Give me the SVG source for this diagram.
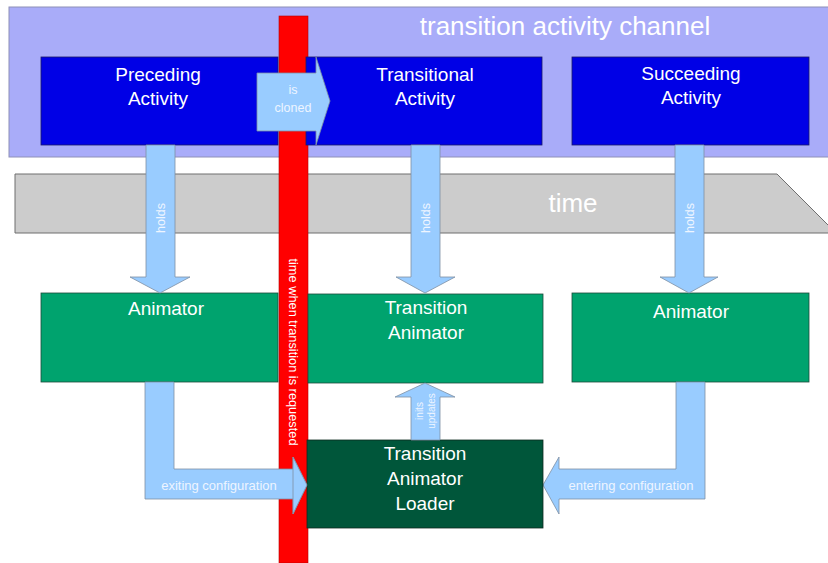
<svg xmlns="http://www.w3.org/2000/svg" width="828" height="563" viewBox="0 0 828 563">
<style>
text{font-family:"Liberation Sans",Arial,sans-serif;fill:#ffffff}
.box{font-size:19px;text-anchor:middle}
.lbl{font-size:13px;text-anchor:middle;fill:#eef5ff}
.sm{font-size:12.5px;text-anchor:middle;fill:#eef5ff}
.arr{fill:#99ccff;stroke:#7d8fa3;stroke-width:0.8}
.blue{fill:#0000e6;stroke:#1a1a66;stroke-width:0.8}
.green{fill:#00a36e;stroke:#1d4a3a;stroke-width:0.8}
</style>
<rect width="828" height="563" fill="#ffffff"/>
<g id="channel">
<rect x="9" y="7" width="820" height="150" fill="#a9acf9" stroke="#8e90b8" stroke-width="1"/>
<text x="565" y="35" style="font-size:26px;text-anchor:middle">transition activity channel</text>
</g>
<g id="time">
<polygon points="15,174 777,174 836,233 15,233" fill="#cccccc" stroke="#6e6e6e" stroke-width="1"/>
<text x="573" y="212" style="font-size:26px;text-anchor:middle">time</text>
</g>
<g id="red-bar">
<rect x="279" y="16" width="29" height="547" fill="#ff0000" stroke="#b30000" stroke-width="0.6"/>
</g>
<g id="preceding">
<rect class="blue" x="41" y="57" width="237" height="88"/>
<text class="box" x="158" y="81">Preceding</text>
<text class="box" x="158" y="105">Activity</text>
</g>
<g id="transitional">
<rect class="blue" x="306" y="57" width="236" height="88"/>
<text class="box" x="425" y="81">Transitional</text>
<text class="box" x="425" y="105">Activity</text>
</g>
<g id="succeeding">
<rect class="blue" x="572" y="57" width="237" height="88"/>
<text class="box" x="691" y="80">Succeeding</text>
<text class="box" x="691" y="104">Activity</text>
</g>
<g id="animator-left">
<rect class="green" x="41" y="293" width="237" height="89"/>
<text class="box" x="166" y="315">Animator</text>
</g>
<g id="transition-animator">
<rect class="green" x="308" y="294" width="235" height="89"/>
<text class="box" x="426" y="314">Transition</text>
<text class="box" x="426" y="339">Animator</text>
</g>
<g id="animator-right">
<rect class="green" x="572" y="293" width="237" height="89"/>
<text class="box" x="691" y="318">Animator</text>
</g>
<g id="connectors">
<polygon class="arr" points="257,73 316,73 316,57 330,101 316,145 316,131 257,131"/>
<text class="sm" x="293" y="94">is</text>
<text class="sm" x="293" y="112">cloned</text>
<polygon class="arr" points="146,145 175,145 175,277 190,277 160,293 130,277 146,277"/>
<text class="sm" transform="translate(164.5,218) rotate(-90)">holds</text>
<polygon class="arr" points="411,145 440,145 440,277 455,277 425,293 396,277 411,277"/>
<text class="sm" transform="translate(429.5,218) rotate(-90)">holds</text>
<polygon class="arr" points="675,145 704,145 704,277 718,277 689,293 660,277 675,277"/>
<text class="sm" transform="translate(693.5,218) rotate(-90)">holds</text>
<polygon class="arr" points="145,382 174,382 174,469 293,469 293,457 307,485 293,514 293,499 145,499"/>
<polygon class="arr" points="705,382 676,382 676,469 559,469 559,457 543,485 559,514 559,499 705,499"/>
<text class="lbl" x="219" y="490">exiting configuration</text>
<text class="lbl" x="631" y="490">entering configuration</text>
</g>
<g id="loader">
<rect x="307" y="440" width="236" height="88" fill="#00563a" stroke="#0d2a1f" stroke-width="0.8"/>
<text class="box" x="425" y="460">Transition</text>
<text class="box" x="425" y="485">Animator</text>
<text class="box" x="425" y="510">Loader</text>
</g>
<g id="connectors-over">
<polygon class="arr" points="293,469 293,457 307,485 293,514 293,499"/>
<polygon class="arr" points="411,440 440,440 440,397 455,397 425,383 395,397 411,397"/>
<text style="font-size:10px;text-anchor:middle;fill:#eef5ff" transform="translate(423,411) rotate(-90)">inits</text>
<text style="font-size:10px;text-anchor:middle;fill:#eef5ff" transform="translate(435,411) rotate(-90)">updates</text>
</g>
<g id="red-label">
<text style="font-size:12.8px;text-anchor:middle" transform="translate(289,352) rotate(90)">time when transition is requested</text>
</g>
</svg>
